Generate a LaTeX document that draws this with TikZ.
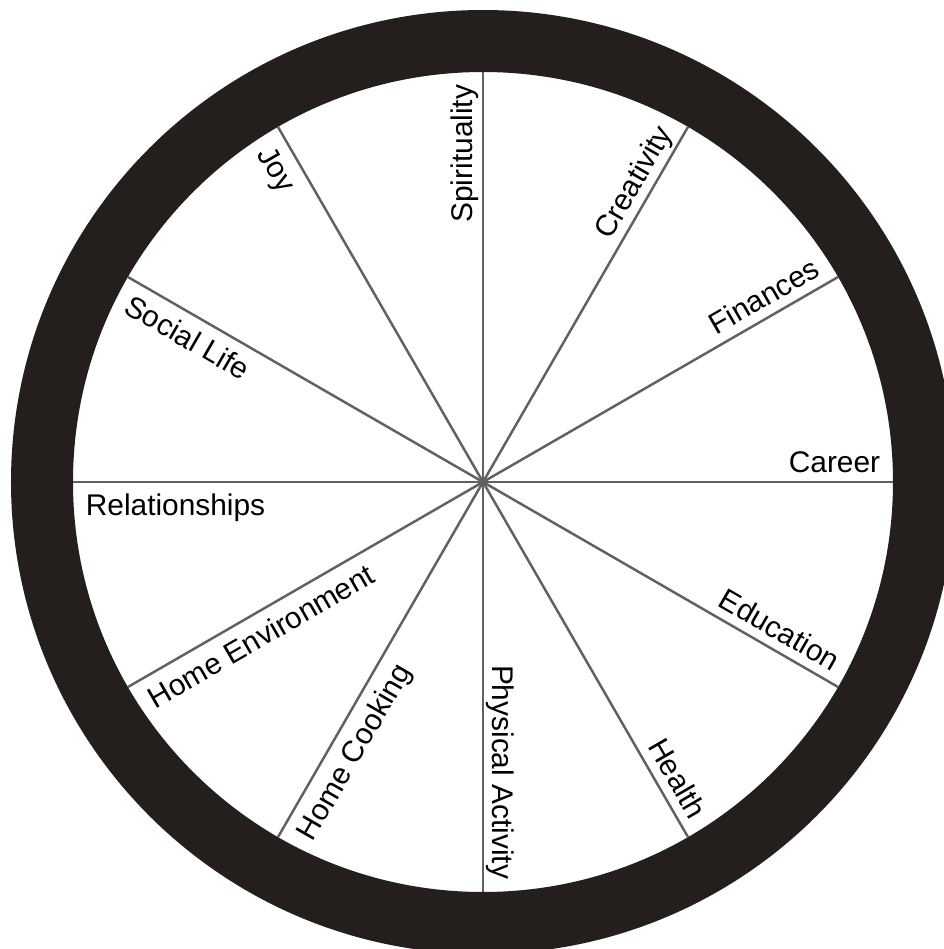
\documentclass[tikz,border=0pt]{standalone}
\usepackage{fontspec}
\setmainfont{Liberation Sans}
\usetikzlibrary{calc}
\definecolor{ringcol}{rgb}{0.14,0.12,0.11}
\tikzset{spoke/.style = {line width=1.4pt, draw=black!62},
  area/.style = {font=\fontsize{17}{20}\selectfont, inner sep=0pt}}

\begin{document}
\begin{tikzpicture}
  \useasboundingbox (-9.66,-9.34) rectangle (9.22,9.64);
  \clip (-9.66,-9.34) rectangle (9.22,9.64);
  \fill[white] (-9.66,-9.34) rectangle (9.22,9.64);
  \coordinate (hub) at (0,0);
  \draw[ringcol, line width=1.24cm] (hub) circle (8.82);
  \foreach \a in {0,30,...,330}
    {\coordinate (rim\a) at (\a:8.2);
     \draw[spoke] (hub) -- (rim\a);}
  % labels reading outward
  \foreach \a/\txt in {0/Career, 30/Finances, 60/Creativity, 90/Spirituality,
      270/Physical Activity, 300/Health, 330/Education}
    \node[area, rotate=\a, anchor=base east] (lbl\a)
      at ($(hub)+(\a:7.95)+(\a+90:0.2)$) {\txt};
  % labels reading inward
  \foreach \a/\txt in {120/Joy, 150/Social Life, 180/Relationships,
      210/Home Environment, 240/Home Cooking}
    \node[area, rotate=\a+180, anchor=north west] (lbl\a)
      at ($(hub)+(\a:7.95)+(\a+90:0.22)$) {\txt};
\end{tikzpicture}
\end{document}
